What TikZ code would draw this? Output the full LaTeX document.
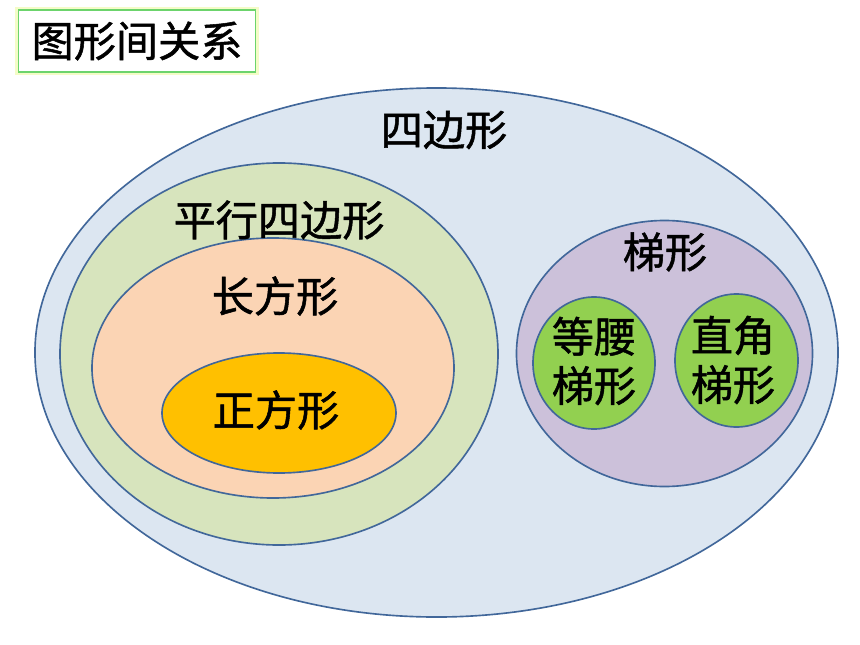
\documentclass[tikz,border=0pt]{standalone}
\usepackage{fontspec}
\newfontfamily\cjk{Noto Sans CJK SC}[FakeBold=1.2]
\usetikzlibrary{shapes.geometric}
\definecolor{quadfill}{HTML}{DCE6F1}
\definecolor{parafill}{HTML}{D7E4BD}
\definecolor{rectfill}{HTML}{FBD4B4}
\definecolor{squarefill}{HTML}{FFC000}
\definecolor{trapfill}{HTML}{CCC1DA}
\definecolor{subfill}{HTML}{92D050}
\definecolor{edgeblue}{HTML}{41679A}
\definecolor{titlegreen}{HTML}{6CD46C}

\begin{document}
\begin{tikzpicture}[x=0.03cm, y=-0.03cm,
    setbox/.style={ellipse, draw=edgeblue, line width=1.4pt, inner sep=0pt},
    setlabel/.style={font=\cjk\fontsize{36}{42}\selectfont, align=center, inner sep=0pt}]
    \useasboundingbox (0,0) rectangle (860,645);

    % Title
    \node[draw=titlegreen!30!yellow!25, line width=6pt, minimum width=7.1cm, minimum height=1.85cm, inner sep=0pt] (glow) at (137,41) {};
    \node[draw=titlegreen, fill=white, line width=1.2pt, minimum width=7.1cm, minimum height=1.85cm, inner sep=0pt,
          font=\cjk\fontsize{36}{42}\selectfont] (title) at (137,41) {图形间关系};

    % Nested sets
    \node[setbox, fill=quadfill, minimum width=24.09cm, minimum height=15.87cm] (quad) at (436.5,352.5) {};
    \node[setbox, fill=parafill, minimum width=13.14cm, minimum height=11.46cm] (para) at (279,354) {};
    \node[setbox, fill=rectfill, minimum width=10.86cm, minimum height=7.8cm] (rect) at (273,368) {};
    \node[setbox, fill=squarefill, minimum width=7.02cm, minimum height=3.6cm] (square) at (279,413) {};

    % Trapezoids
    \node[setbox, fill=trapfill, minimum width=8.88cm, minimum height=7.98cm] (trap) at (664.5,353.5) {};
    \node[setbox, fill=subfill, minimum width=3.66cm, minimum height=3.96cm] (isos) at (594,363) {};
    \node[setbox, fill=subfill, minimum width=3.69cm, minimum height=3.99cm] (right) at (736.5,360.5) {};

    % Labels
    \node[setlabel] (quadtext) at (444,130) {四边形};
    \node[setlabel] (paratext) at (279,220) {平行四边形};
    \node[setlabel] (recttext) at (275,296) {长方形};
    \node[setlabel] (squaretext) at (276,410) {正方形};
    \node[setlabel] (traptext) at (665,252) {梯形};
    \node[setlabel] (isostext) at (594,361) {等腰\\梯形};
    \node[setlabel] (righttext) at (733,360) {直角\\梯形};
\end{tikzpicture}
\end{document}
